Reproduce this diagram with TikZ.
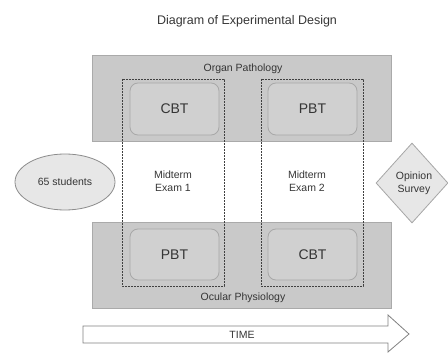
\documentclass[tikz,border=0pt]{standalone}
\usepackage{fontspec}
\setmainfont{Liberation Sans}
\usetikzlibrary{shapes.geometric}
\definecolor{panel}{HTML}{C9C9C9}
\definecolor{panelline}{HTML}{AAAAAA}
\definecolor{inner}{HTML}{D0D0D0}
\definecolor{innerline}{HTML}{A8A8A8}
\definecolor{txt}{HTML}{353535}
\definecolor{light}{HTML}{E7E7E7}
\tikzset{
  panelbox/.style={draw=panelline, fill=panel, line width=0.8pt},
  testbox/.style={draw=innerline, fill=inner, rounded corners=8pt, line width=0.8pt},
  phasebox/.style={draw=black!75, dash pattern=on 2pt off 1pt, line width=0.7pt},
  lbl/.style={text=txt, font=\fontsize{10.5}{13}\selectfont, align=center},
  big/.style={text=txt, font=\fontsize{14}{16}\selectfont},
}
\begin{document}
\begin{tikzpicture}[x=1pt,y=-1pt]
\useasboundingbox (0,0) rectangle (448,353);
\node[text=txt, font=\fontsize{12.5}{14}\selectfont] (title) at (247,21) {Diagram of Experimental Design};
% panels
\draw[panelbox] (92,55) rectangle (391,141);
\draw[panelbox] (92,222) rectangle (391,308);
\node[lbl] (organ) at (243,69) {Organ Pathology};
\node[lbl] (ocular) at (243,298) {Ocular Physiology};
% test boxes
\draw[testbox] (130,83) rectangle (219,135);
\draw[testbox] (268,83) rectangle (357,135);
\draw[testbox] (130,229) rectangle (219,280);
\draw[testbox] (268,229) rectangle (357,280);
\node[big] (cbt1) at (174.5,109) {CBT};
\node[big] (pbt1) at (312.5,109) {PBT};
\node[big] (pbt2) at (174.5,255) {PBT};
\node[big] (cbt2) at (312.5,255) {CBT};
% phase boxes
\draw[phasebox] (122,79) rectangle (224,286);
\draw[phasebox] (261,79) rectangle (363,286);
\node[lbl] (exam1) at (173,181) {Midterm\\Exam 1};
\node[lbl] (exam2) at (307,181) {Midterm\\Exam 2};
% students
\node[ellipse, draw=black!45, fill=light, line width=0.8pt, minimum width=100pt, minimum height=56pt, inner sep=0pt, lbl] (students) at (65,182) {65 students};
% survey
\node[diamond, draw=black!35, fill=light, line width=0.8pt, minimum width=72pt, minimum height=80pt, inner sep=0pt, lbl] (survey) at (412,183) {\hspace*{4pt}Opinion\\\hspace*{4pt}Survey};
% time arrow
\draw[draw=black!50, fill=white, line width=0.8pt] (83,326) -- (388,326) -- (388,315) -- (409,334) -- (388,352) -- (388,343) -- (83,343) -- cycle;
\node[lbl] (time) at (242,335) {TIME};
\end{tikzpicture}
\end{document}
